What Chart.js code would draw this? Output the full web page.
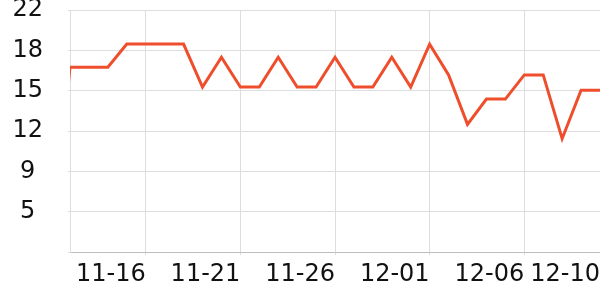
<!DOCTYPE html>
<html>
<head>
<meta charset="utf-8">
<script src="https://cdn.jsdelivr.net/npm/chart.js@4/dist/chart.umd.min.js"></script>
<style>
  html, body { margin: 0; padding: 0; background: #fff; }
  #wrap { width: 600px; height: 300px; }
</style>
</head>
<body>
<div id="wrap"><canvas id="c1"></canvas></div>
<script>
// daily dates, first one sits just left of the visible range
var days = [
  "11-11", "11-12", "11-13", "11-14", "11-15", "11-16", "11-17", "11-18",
  "11-19", "11-20", "11-21", "11-22", "11-23", "11-24", "11-25", "11-26",
  "11-27", "11-28", "11-29", "11-30", "12-01", "12-02", "12-03", "12-04",
  "12-05", "12-06", "12-07", "12-08", "12-09", "12-10"
];
var values = [
  0, 16.8, 16.8, 16.8, 18.9, 18.9, 18.9, 18.9,
  15.0, 17.7, 15.0, 15.0, 17.7, 15.0, 15.0, 17.7,
  15.0, 15.0, 17.7, 15.0, 18.9, 16.1, 11.6, 13.9,
  13.9, 16.1, 16.1, 10.3, 14.7, 14.7
];
var shownDays = ["11-16", "11-21", "11-26", "12-01", "12-06", "12-10"];
var yTickLabels = ["", "5", "9", "12", "15", "18", "22"];
var yMax = 22;

var gridColor = "#dddddd";
var tickFont = { family: "DejaVu Sans", size: 24 };

var ctx = document.getElementById("c1").getContext("2d");
var chart = new Chart(ctx, {
  type: "line",
  data: {
    labels: days,
    datasets: [
      {
        data: values,
        borderColor: "#ef4e2d",
        borderWidth: 3,
        pointRadius: 0,
        tension: 0,
        fill: false,
      },
    ],
  },
  options: {
    responsive: true,
    maintainAspectRatio: false,
    animation: false,
    plugins: {
      legend: { display: false },
      tooltip: { enabled: false },
    },
    layout: { padding: 0 },
    scales: {
      x: {
        type: "category",
        min: "11-12",
        grid: {
          color: function (c) {
            return c.tick && c.tick.label != null ? gridColor : "transparent";
          },
          tickLength: 3,
        },
        border: { color: "#bdbdbd" },
        ticks: {
          autoSkip: false,
          maxRotation: 0,
          align: "end",
          padding: 5,
          color: "#111",
          font: tickFont,
          callback: function (v) {
            var lab = this.getLabelForValue(v);
            return shownDays.indexOf(lab) >= 0 ? lab : null;
          },
        },
        afterFit: function (s) {
          s.height = 48;
          s.paddingLeft = 0;
          s.paddingRight = 0;
        },
      },
      y: {
        min: 0,
        max: yMax,
        grid: { color: gridColor, tickLength: 2 },
        border: { color: gridColor },
        ticks: {
          crossAlign: "center",
          padding: 25,
          color: "#111",
          font: tickFont,
          callback: function (v, i) {
            return yTickLabels[i];
          },
        },
        afterBuildTicks: function (s) {
          s.ticks = yTickLabels.map(function (t, i) {
            return { value: (i * yMax) / (yTickLabels.length - 1) };
          });
        },
        afterFit: function (s) {
          s.width = 70;
          s.paddingTop = 10;
          s.paddingBottom = 0;
        },
      },
    },
  },
});
</script>
</body>
</html>
